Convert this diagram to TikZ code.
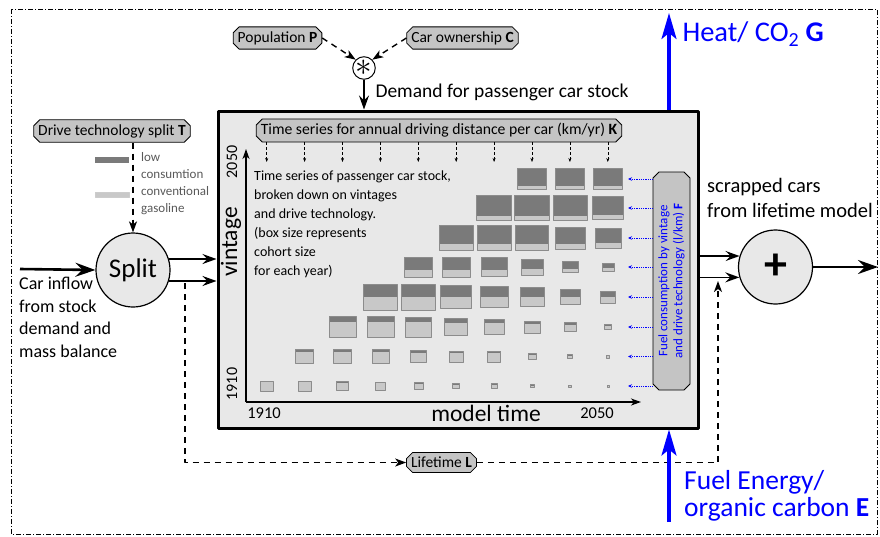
\documentclass[tikz,border=0pt]{standalone}
\usepackage{fontspec}
\setmainfont{Carlito}
\usetikzlibrary{shapes.misc,arrows.meta}

\definecolor{panelgrey}{RGB}{232,232,232}
\definecolor{taggrey}{RGB}{196,196,196}
\definecolor{lowcons}{RGB}{122,122,122}
\definecolor{convgas}{RGB}{200,200,200}
\definecolor{flowblue}{RGB}{0,0,255}
\newcommand{\fs}[2]{\fontsize{#1}{#2}\selectfont}

\begin{document}
\begin{tikzpicture}[>=Stealth,line join=round,x=1pt,y=-1pt,
  tag/.style={chamfered rectangle,chamfered rectangle sep=3pt,draw,line width=0.8pt,fill=taggrey,inner sep=1.5pt,font=\fs{15.5}{18}},
  sumnode/.style={circle,draw,line width=1.2pt,fill=panelgrey,minimum size=74pt,inner sep=0pt},
  flow/.style={line width=1.6pt,-{Stealth[length=14pt,width=10pt,inset=5pt]}},
  bigflow/.style={line width=2.6pt,-{Stealth[length=20pt,width=14pt,inset=7pt]}},
  energy/.style={flowblue,line width=3.2pt,-{Stealth[length=26pt,width=15pt,inset=6pt]}},
  info/.style={line width=1.4pt,dash pattern=on 6pt off 5pt,-{Stealth[length=11pt,width=8pt,inset=3pt]}},
  kinfo/.style={line width=0.5pt,densely dashed,-{Stealth[length=4pt,width=3pt]}},
  finfo/.style={flowblue,line width=0.8pt,densely dotted,-{Stealth[length=4pt,width=3.5pt]}},
  axis/.style={line width=1.5pt,-{Stealth[length=10pt,width=7pt,inset=3pt]}},
  cell/.style={draw=black!45,line width=0.5pt}]

\useasboundingbox (0,0) rectangle (880,536);
\draw[line width=0.9pt,dash pattern=on 5pt off 2pt on 1pt off 2pt] (11,9) rectangle (877,534);

\node[draw,line width=3pt,fill=panelgrey,minimum width=480pt,minimum height=317pt,inner sep=0pt] (stock) at (458,269.5) {};

\node[tag] (pop) at (277.5,38) {Population \textbf{P}};
\node[tag] (own) at (462.5,38) {Car ownership \textbf{C}};
\node[circle,draw,line width=1pt,fill=white,minimum size=22pt,inner sep=0pt,font=\fs{14}{14}] (mult) at (364,68) {\scalebox{2.3}{$\ast$}};
\draw[info] (pop.east) -- (mult.135);
\draw[info] (own.west) -- (mult.45);
\draw[flow,line width=1.2pt] (mult.south) -- (mult.south |- stock.north);
\node[anchor=west,font=\fs{19.5}{22}] (demand) at (372,92) {Demand for passenger car stock};

\node[tag] (tech) at (112,131) {Drive technology split \textbf{T}};
\node[sumnode,font=\fs{27}{30}] (split) at (133,270) {Split};
\draw[info] (tech.south -| split.north) -- (split.north);
\fill[lowcons] (95,157) rectangle (129,163);
\filldraw[fill=convgas,draw=black!20] (95,192) rectangle (129,197);
\node[anchor=north west,align=left,text=black!65,inner sep=0pt,font=\fs{13}{17}] (leglow) at (141,152) {low\\consumtion};
\node[anchor=north west,align=left,text=black!65,inner sep=0pt,font=\fs{13}{17}] (legconv) at (141,186) {conventional\\gasoline};

\coordinate (inflow) at (20,269);
\draw[bigflow] (inflow) -- (split.west);
\node[anchor=north west,align=left,inner sep=0pt,font=\fs{18}{22.5}] (inflowtxt) at (19,277) {Car inflow\\from stock\\demand and\\mass balance};
\draw[flow] (split.17) -- (split.17 -| stock.west);
\draw[flow] (split.-17) -- (split.-17 -| stock.west);

\node[sumnode,font=\fs{46}{46}\bfseries] (plus) at (775.5,267) {+};
\draw[flow] (stock.east |- plus.163) -- (plus.163);
\draw[flow] (stock.east |- plus.196) -- (plus.196);
\coordinate (outflow) at (878,267);
\draw[bigflow] (plus.east) -- (outflow);
\node[anchor=north west,align=left,inner sep=0pt,font=\fs{20.5}{25}] (scraptxt) at (707,178) {scrapped cars\\from lifetime model};

\node[tag] (life) at (441.5,462.5) {Lifetime \textbf{L}};
\coordinate (lstart) at (185,283);
\coordinate (lend) at (718,281);
\draw[info] (lstart) |- (life.west);
\draw[info] (life.east) -| (lend);

\coordinate (gtop) at (669,13);
\coordinate (ebot) at (669,522);
\draw[energy] (stock.north -| gtop) -- (gtop);
\draw[energy] (ebot) -- (ebot |- stock.south);
\node[anchor=west,text=flowblue,font=\fs{28.5}{30}] (heat) at (679,34) {Heat/ CO\textsubscript{2} \textbf{G}};
\node[anchor=north west,align=left,inner sep=0pt,text=flowblue,font=\fs{27.5}{27}] (fuel) at (684,470) {Fuel Energy/\\organic carbon \textbf{E}};

\node[tag,font=\fs{15.7}{18}] (dist) at (439,130.5) {Time series for annual driving distance per car (km/yr) \textbf{K}};
\coordinate (origin) at (246,402);
\coordinate (vtop) at (246,149);
\coordinate (tend) at (641,402);
\draw[axis] (origin) -- (vtop);
\draw[axis] (origin) -- (tend);
\node[rotate=90,font=\fs{23.5}{25}] (vlabel) at (231,242) {vintage};
\node[rotate=90,font=\fs{16}{18}] (vmax) at (232,162) {2050};
\node[rotate=90,font=\fs{16}{18}] (vmin) at (232,384) {1910};
\node[font=\fs{16.5}{18}] (tmin) at (264,413) {1910};
\node[font=\fs{16.5}{18}] (tmax) at (597,413) {2050};
\node[font=\fs{23.5}{25}] (tlabel) at (486,413) {model time};
\node[anchor=north west,align=left,inner sep=0pt,font=\fs{14}{19}] (desc) at (254,171) {Time series of passenger car stock,\\broken down on vintages\\and drive technology.\\(box size represents\\cohort size\\for each year)};

\node[tag,rotate=90,minimum width=218pt,minimum height=37pt,align=center,text=flowblue,font=\fs{13}{15}] (fcons) at (671.5,281) {Fuel consumption by vintage\\and drive technology (l/km) \textbf{F}};

\foreach \c in {0,...,9}{
  \coordinate (col\c) at (266.7+37.9*\c,162);
  \draw[kinfo] (dist.south -| col\c) -- (col\c);
}

\foreach \r/\yy/\fr/\cells in {
  0/386/0.12/{0/13/10,1/13/10,2/12/9,3/10/8,4/9/7,5/7/5,6/6/5,7/4/3,8/3/2,9/2/2},
  1/356.5/0.2/{1/18/14,2/18/14,3/17/14,4/16/12,5/14/11,6/13/11,7/8/6,8/5/4,9/3/3},
  2/327/0.25/{2/27/21,3/27/21,4/26/20,5/23/17,6/20/15,7/16/12,8/12/9,9/7/5},
  3/297/0.5/{3/34/26,4/34/26,5/31/23,6/28/21,7/24/19,8/20/15,9/15/12},
  4/267/0.65/{4/28/20,5/28/20,6/26/19,7/22/16,8/16/11,9/12/8},
  5/238/0.75/{5/34/25,6/34/25,7/33/25,8/30/22,9/26/20},
  6/208/0.82/{6/35/25,7/35/25,8/34/25,9/31/23},
  7/179/0.85/{7/29/21,8/29/21,9/29/21}}{
  \coordinate (row\r) at (628,\yy);
  \draw[finfo] (fcons.north |- row\r) -- (row\r);
  \foreach \c/\w/\h in \cells{
    \pgfmathsetmacro{\cx}{266.7+37.9*\c}
    \fill[convgas] (\cx-\w/2,\yy-\h/2) rectangle (\cx+\w/2,\yy+\h/2);
    \fill[lowcons] (\cx-\w/2,\yy-\h/2) rectangle (\cx+\w/2,\yy-\h/2+\fr*\h);
    \draw[cell] (\cx-\w/2,\yy-\h/2) rectangle (\cx+\w/2,\yy+\h/2);
  }
}
\end{tikzpicture}
\end{document}
